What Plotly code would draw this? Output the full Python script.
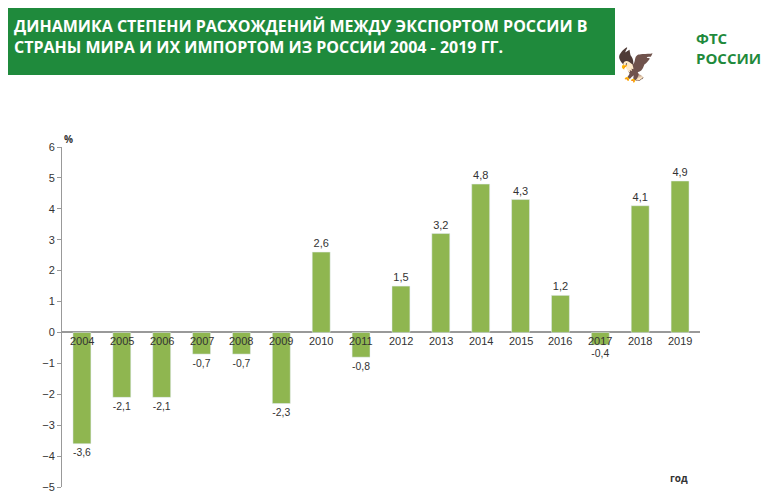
import plotly.graph_objects as go

years = [str(y) for y in range(2004, 2020)]
values = [-3.6, -2.1, -2.1, -0.7, -0.7, -2.3, 2.6, -0.8, 1.5, 3.2, 4.8, 4.3, 1.2, -0.4, 4.1, 4.9]
labels = [f"{v:.1f}".replace(".", ",") for v in values]

fig = go.Figure(go.Bar(
    x=years, y=values, marker_color="#8fb650", width=0.45,
    text=labels, textposition="outside", cliponaxis=False,
    textfont=dict(size=11, color="#333", family="Liberation Sans"),
))

# year labels sit on the zero line (category index as x)
for i, yr in enumerate(years):
    fig.add_annotation(x=i, y=0, yshift=-9, text=yr, showarrow=False,
                       font=dict(size=11, color="#333", family="Liberation Sans"))

# page body adds an 8px offset, so lay out in screen pixels minus 8
OFF = 8
L, R, T, B = 62 - OFF, 76 + OFF, 147 - OFF, 17 + OFF
pw, ph = 776 - L - R, 504 - T - B
def px(x): return (x - OFF - L) / pw
def py(y): return (504 - B - (y - OFF)) / ph

fig.add_shape(type="rect", xref="paper", yref="paper", x0=px(-5), x1=px(615), y0=py(75), y1=py(-5),
              fillcolor="#1f8a3c", line_width=0)
fig.add_annotation(xref="paper", yref="paper", x=px(12), y=py(36), xanchor="left", yanchor="middle",
                   align="left", showarrow=False,
                   text="<b>ДИНАМИКА СТЕПЕНИ РАСХОЖДЕНИЙ МЕЖДУ ЭКСПОРТОМ РОССИИ В<br>СТРАНЫ МИРА И ИХ ИМПОРТОМ ИЗ РОССИИ 2004 - 2019 ГГ.</b>",
                   font=dict(size=16, color="white", family="Open Sans"))
fig.add_annotation(xref="paper", yref="paper", x=px(694), y=py(48), xanchor="left", yanchor="middle",
                   align="left", showarrow=False, text="<b>ФТС<br>РОССИИ</b>",
                   font=dict(size=15, color="#1f8a3c", family="Open Sans"))
fig.add_annotation(xref="paper", yref="paper", x=px(658), y=py(40), showarrow=False, text="🦅",
                   font=dict(size=32, color="#c8a030"))
fig.add_annotation(xref="paper", yref="paper", x=px(62), y=py(130), showarrow=False, text="<b>%</b>",
                   font=dict(size=10, color="#333"))
fig.add_annotation(xref="paper", yref="paper", x=px(690), y=py(487), showarrow=False, text="<b>год</b>",
                   font=dict(size=10, color="#333"))

fig.update_layout(
    width=776, height=504, margin=dict(l=L, r=R, t=T, b=B, autoexpand=False),
    plot_bgcolor="white", paper_bgcolor="white", showlegend=False,
    xaxis=dict(type="category", range=[-0.5, 15.5], showticklabels=False, showline=False, showgrid=False),
    yaxis=dict(range=[-5, 6], dtick=1, showline=True, linecolor="#999", ticks="outside",
               ticklen=4, tickcolor="#999", showgrid=False, zeroline=True, zerolinecolor="#999",
               tickfont=dict(size=11, color="#333", family="Liberation Sans")),
)
fig.write_html("out.html")
